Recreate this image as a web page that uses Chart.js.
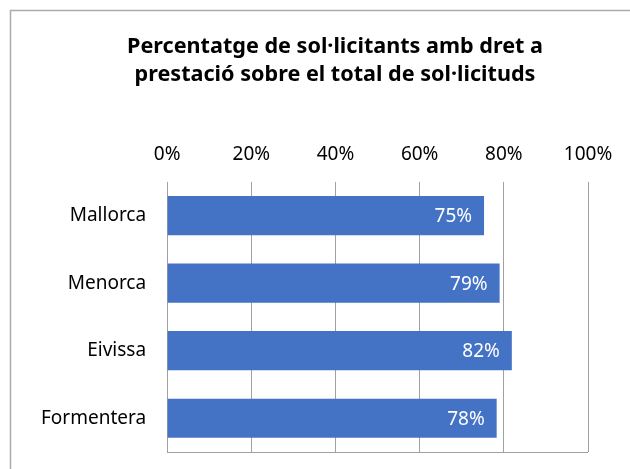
<!DOCTYPE html>
<html lang="en">
<head>
    <meta charset="UTF-8">
    <title>Percentatge de sol·licitants</title>
    <script src="https://cdn.jsdelivr.net/npm/chart.js"></script>
    <style>
        html, body { margin: 0; padding: 0; background: #fff; }
        #wrap { width: 630px; height: 469px; }
    </style>
</head>
<body>
    <div id="wrap"><canvas id="bar-chart" width="630" height="469"></canvas></div>

    <script>
        const illes = ['Mallorca', 'Menorca', 'Eivissa', 'Formentera'];
        const percentatges = [75.3, 79.0, 81.9, 78.3];
        const titol = ['Percentatge de sol·licitants amb dret a', 'prestació sobre el total de sol·licituds'];

        const FONT = '"Noto Sans", "Open Sans", sans-serif';

        // outer frame (left + top only, like the cropped Excel chart) and the title
        const frame = {
            id: 'frame',
            beforeDraw(chart) {
                const ctx = chart.ctx;
                ctx.save();
                ctx.strokeStyle = '#ababab';
                ctx.lineWidth = 1.5;
                ctx.beginPath();
                ctx.moveTo(10.5, chart.height);
                ctx.lineTo(10.5, 10.5);
                ctx.lineTo(chart.width, 10.5);
                ctx.stroke();

                // title is centred on the whole chart box, not on the plot
                ctx.fillStyle = '#000000';
                ctx.font = 'bold 21.6px ' + FONT;
                ctx.textAlign = 'center';
                ctx.textBaseline = 'middle';
                titol.forEach((line, i) => ctx.fillText(line, 335, 47 + i * 28));
                ctx.restore();
            }
        };

        // white value labels at the end inside each bar
        const valueLabels = {
            id: 'valueLabels',
            afterDatasetsDraw(chart) {
                const ctx = chart.ctx;
                const meta = chart.getDatasetMeta(0);
                ctx.save();
                ctx.fillStyle = '#ffffff';
                ctx.font = '19px ' + FONT;
                ctx.textAlign = 'right';
                ctx.textBaseline = 'middle';
                meta.data.forEach((bar, i) => {
                    ctx.fillText(Math.round(percentatges[i]) + '%', bar.x - 12, bar.y + 1);
                });
                ctx.restore();
            }
        };

        new Chart(document.getElementById('bar-chart').getContext('2d'), {
            type: 'bar',
            data: {
                labels: illes,
                datasets: [{
                    data: percentatges,
                    backgroundColor: '#4472c4',
                    barPercentage: 0.58,
                    categoryPercentage: 1.0
                }]
            },
            options: {
                indexAxis: 'y',
                responsive: false,
                animation: false,
                layout: { padding: { left: 20, right: 42, top: 127, bottom: 17 } },
                plugins: {
                    legend: { display: false },
                    tooltip: { enabled: false },
                    title: { display: false }
                },
                scales: {
                    x: {
                        position: 'top',
                        min: 0,
                        max: 100,
                        ticks: {
                            stepSize: 20,
                            color: '#000000',
                            font: { family: FONT, size: 19 },
                            padding: 16,
                            callback: v => v + '%'
                        },
                        grid: { color: '#a0a0a0', lineWidth: 1, drawTicks: false },
                        border: { display: false }
                    },
                    y: {
                        // labels sit inside their categories, so no extra room above/below
                        afterFit: scale => { scale.paddingTop = 0; scale.paddingBottom = 0; },
                        ticks: {
                            color: '#000000',
                            font: { family: FONT, size: 19 },
                            padding: 21
                        },
                        grid: {
                            offset: true,
                            drawTicks: false,
                            color: ctx => ctx.type === 'scale' ? '#a0a0a0' : 'rgba(0,0,0,0)'
                        },
                        border: { display: false }
                    }
                }
            },
            plugins: [frame, valueLabels]
        });
    </script>
</body>
</html>
